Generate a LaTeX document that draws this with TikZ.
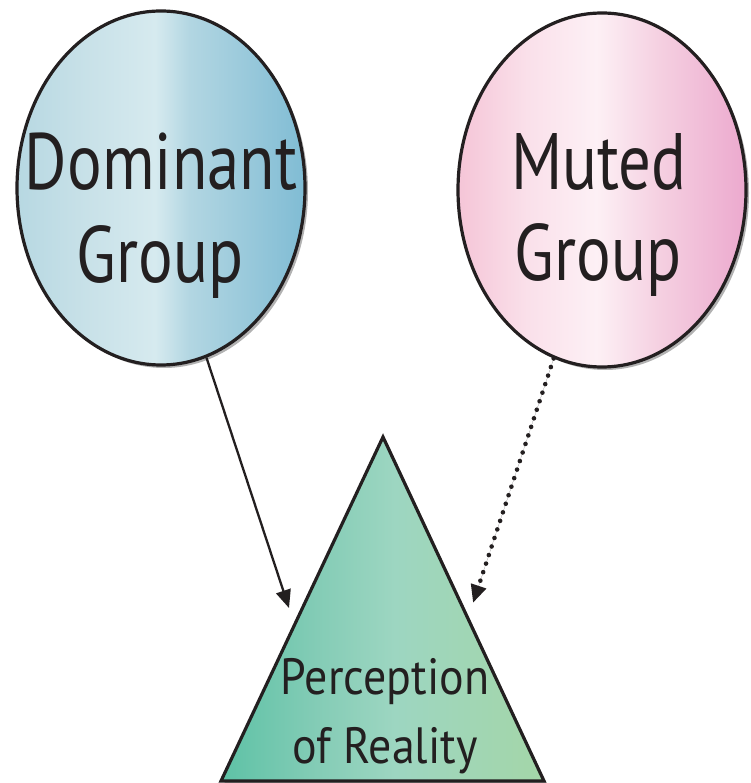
\documentclass[tikz,border=0pt]{standalone}
\usepackage{fontspec}
\setmainfont{PT Sans}
\newfontfamily\bigfont[FakeStretch=0.81]{PT Sans}
\newfontfamily\midfont[FakeStretch=0.9]{PT Sans}
\usetikzlibrary{arrows.meta,shapes.geometric,shadows}

\definecolor{inkblack}{HTML}{231F20}
\definecolor{domA}{HTML}{B7D8E2}
\definecolor{domB}{HTML}{C8E1E8}
\definecolor{domC}{HTML}{D6EAEF}
\definecolor{domD}{HTML}{B2D6E2}
\definecolor{domE}{HTML}{80BCD4}
\definecolor{mutA}{HTML}{F5C5D7}
\definecolor{mutB}{HTML}{FAE0EA}
\definecolor{mutC}{HTML}{FDF0F5}
\definecolor{mutD}{HTML}{F5D0E1}
\definecolor{mutE}{HTML}{ECA9CE}
\definecolor{triA}{HTML}{5EC2A6}
\definecolor{triB}{HTML}{84CCB6}
\definecolor{triC}{HTML}{9DD6C1}
\definecolor{triD}{HTML}{A4D6A8}

\pgfdeclarehorizontalshading{domshade}{100bp}{color(0bp)=(domA); color(25bp)=(domA);
  color(37bp)=(domB); color(49bp)=(domC); color(55bp)=(domD); color(75bp)=(domE); color(100bp)=(domE)}
\pgfdeclarehorizontalshading{mutshade}{100bp}{color(0bp)=(mutA); color(25bp)=(mutA);
  color(37bp)=(mutB); color(49bp)=(mutC); color(60bp)=(mutD); color(75bp)=(mutE); color(100bp)=(mutE)}
\pgfdeclarehorizontalshading{trishade}{100bp}{color(0bp)=(triA); color(25bp)=(triA);
  color(40bp)=(triB); color(52bp)=(triC); color(75bp)=(triD); color(100bp)=(triD)}

\begin{document}
\begin{tikzpicture}[> = {Triangle[length=18pt,width=15pt]}, % arrow head style
	x=1pt, y=-1pt, % units like the picture, y downwards
	soft shadow/.style={drop shadow={shadow xshift=3pt,shadow yshift=-3pt,fill=black,opacity=.3}},
	group/.style={ellipse,draw=inkblack,line width=3.2pt,inner sep=0pt,
		minimum width=288pt,minimum height=354pt,soft shadow},
	bigtext/.style={font=\bigfont\fontsize{80}{90}\selectfont,text=inkblack,anchor=base,inner sep=0pt},
	midtext/.style={font=\midfont\fontsize{51}{60}\selectfont,text=inkblack,anchor=base,inner sep=0pt},
	link/.style={draw=inkblack,fill=inkblack,line width=2.3pt},
	quiet/.style={draw=inkblack,fill=inkblack,line width=4.6pt,line cap=round,dash pattern=on 0pt off 9pt}]
	\useasboundingbox (0,0) rectangle (750,783);

	% the two groups
	\node[group,shading=domshade] (dom) at (161,188) {};
	\node[group,shading=mutshade] (mut) at (602,190) {};

	% perception triangle
	\coordinate (apex) at (383,437);
	\coordinate (left) at (221,781);
	\coordinate (right) at (544,781);
	\path[draw=inkblack,line width=3.2pt,line join=miter,shading=trishade,soft shadow]
		(apex) -- (right) -- (left) -- cycle;

	\node[bigtext] (dom1) at (161,190) {Dominant};
	\node[bigtext] (dom2) at (160,282) {Group};
	\node[bigtext] (mut1) at (599,190) {Muted};
	\node[bigtext] (mut2) at (598,280) {Group};
	\node[midtext] (per1) at (385,694) {Perception};
	\node[midtext] (per2) at (385,763) {of Reality};

	% arrow ends
	\coordinate (pin1) at (289,608);
	\coordinate (pin2) at (473,603);

	\draw[link,->] (dom.-75) -- (pin1);
	\draw[quiet,->] (mut.-106) -- (pin2);
\end{tikzpicture}
\end{document}
